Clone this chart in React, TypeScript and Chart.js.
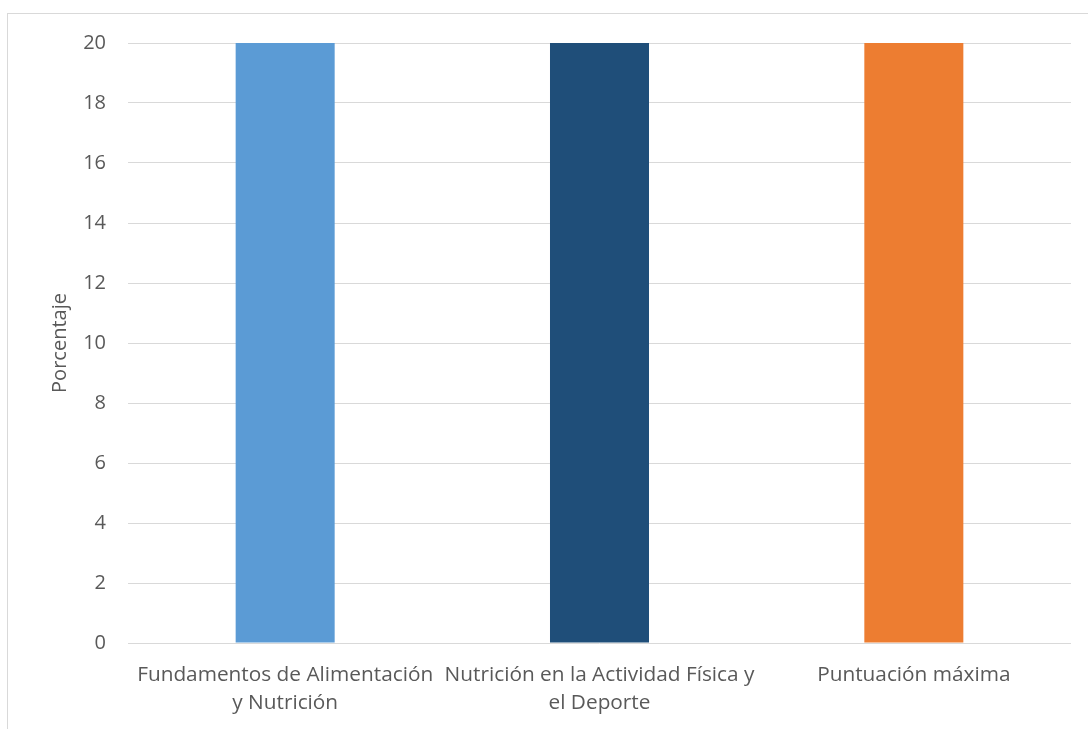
import React, { useEffect, useRef } from "react";
import { Chart, registerables } from "chart.js";

Chart.register(...registerables);

const categories: string[][] = [
  ["Fundamentos de Alimentación", "y Nutrición"],
  ["Nutrición en la Actividad Física y", "el Deporte"],
  ["Puntuación máxima"],
];
const values: number[] = [20, 20, 20];
const barColors: string[] = ["#5B9BD5", "#1F4E79", "#ED7D31"];
const yTitle = "Porcentaje";

const FONT = "'Open Sans', 'Liberation Sans', sans-serif";
const TEXT = "#595959";

export default function App() {
  const ref = useRef<HTMLCanvasElement | null>(null);

  useEffect(() => {
    if (!ref.current) return;
    const chart = new Chart(ref.current, {
      type: "bar",
      data: {
        labels: categories,
        datasets: [
          {
            data: values,
            backgroundColor: barColors,
            borderWidth: 0,
            categoryPercentage: 1,
            barPercentage: 0.315,
          },
        ],
      },
      options: {
        animation: false,
        responsive: false,
        maintainAspectRatio: false,
        layout: { padding: { left: 0, top: 43, right: 17, bottom: 0 } },
        plugins: { legend: { display: false }, tooltip: { enabled: false } },
        scales: {
          x: {
            grid: { display: false },
            border: { display: false },
            ticks: {
              color: TEXT,
              font: { family: FONT, size: 20.8, lineHeight: 1.35 },
              padding: 10,
              maxRotation: 0,
              autoSkip: false,
            },
            afterFit: (s: any) => {
              s.height = 729 - 643;
            },
          },
          y: {
            min: 0,
            max: 20,
            ticks: {
              stepSize: 2,
              color: TEXT,
              font: { family: FONT, size: 20 },
              padding: 22,
            },
            grid: { color: "#d9d9d9", lineWidth: 1, drawTicks: false },
            border: { display: false },
            title: {
              display: true,
              text: yTitle,
              color: TEXT,
              font: { family: FONT, size: 20, weight: "normal", lineHeight: 1.2 },
              padding: { top: 48, bottom: 0 },
            },
            afterFit: (s: any) => {
              s.width = 128;
            },
          },
        },
      },
    });
    return () => chart.destroy();
  }, []);

  return (
    <div style={{ position: "fixed", left: 0, top: 0, width: 1088, height: 729, overflow: "hidden", background: "#fff" }}>
      <canvas ref={ref} width={1088} height={729} style={{ position: "absolute", left: 0, top: 0 }} />
      <div
        style={{
          position: "absolute",
          left: 7,
          top: 13,
          width: 1200,
          height: 800,
          border: "1px solid #d9d9d9",
          pointerEvents: "none",
        }}
      />
    </div>
  );
}
